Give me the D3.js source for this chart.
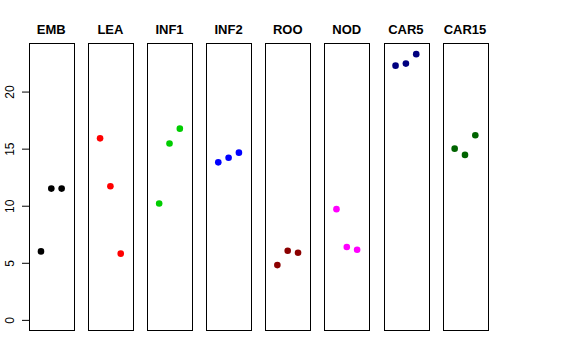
<!DOCTYPE html>
<html><head><meta charset="utf-8">
<script src="https://cdn.jsdelivr.net/npm/d3@7"></script>
<style>body{margin:0;background:#fff}svg{display:block}</style>
</head><body>
<script>
const categories = ["EMB","LEA","INF1","INF2","ROO","NOD","CAR5","CAR15"];
const colors = ["#000000","#ff0000","#00cd00","#0000ff","#8b0000","#ff00ff","#000080","#006400"];
const values = [
  [6.0, 11.5, 11.5],
  [15.9, 11.7, 5.8],
  [10.2, 15.45, 16.75],
  [13.8, 14.2, 14.65],
  [4.8, 6.05, 5.88],
  [9.7, 6.38, 6.14],
  [22.27, 22.45, 23.28],
  [15.0, 14.45, 16.18]
];
const yTicks = [0,5,10,15,20];

(function(){
const W=576,H=360;
const svg=d3.select("body").append("svg").attr("width",W).attr("height",H);
const pTop=43.5,pBottom=330.5;
const ymax=d3.max(values.flat()), ymin=0;
const ext=(ymax-ymin)*0.04;
const y=d3.scaleLinear().domain([ymin-ext,ymax+ext]).range([pBottom,pTop]);
const xb=d3.scaleBand().domain(categories).range([29,487.3]).paddingInner(0.245).paddingOuter(0);

categories.forEach((c,i)=>{
  const x0=xb(c), bw=xb.bandwidth();
  const x=d3.scaleLinear().domain([-0.16,4.16]).range([x0,x0+bw]);
  const g=svg.append("g");
  g.append("rect").attr("x",Math.round(x0)+0.5).attr("y",pTop).attr("width",Math.round(bw)).attr("height",pBottom-pTop)
    .attr("fill","none").attr("stroke","#000").attr("stroke-width",1);
  g.selectAll("circle").data(values[i]).enter().append("circle")
    .attr("cx",(d,j)=>x(j+1)).attr("cy",d=>y(d)).attr("r",3.3).attr("fill",colors[i]);
  g.append("text").attr("x",x0+bw/2).attr("y",33.5).attr("text-anchor","middle")
    .attr("font-family","Liberation Sans, Arial, sans-serif").attr("font-weight","bold").attr("font-size",13)
    .text(c);
});

const ax=svg.append("g").attr("transform",`translate(${Math.round(xb(categories[0]))+0.5},0)`)
  .call(d3.axisLeft(y).tickValues(yTicks).tickSize(7.5).tickPadding(4).tickSizeOuter(0));
ax.select(".domain").attr("d",`M0,${y(0)}V${y(20)}`).attr("stroke","#000");
ax.selectAll(".tick line").attr("stroke","#000");
ax.selectAll(".tick text").attr("font-family","Liberation Sans, Arial, sans-serif").attr("font-size",12).attr("fill","#000")
  .attr("text-anchor","middle").attr("dy",null).attr("x",0).attr("y",0)
  .attr("transform","translate(-15.5,0) rotate(-90)");
})();
</script>
</body></html>
